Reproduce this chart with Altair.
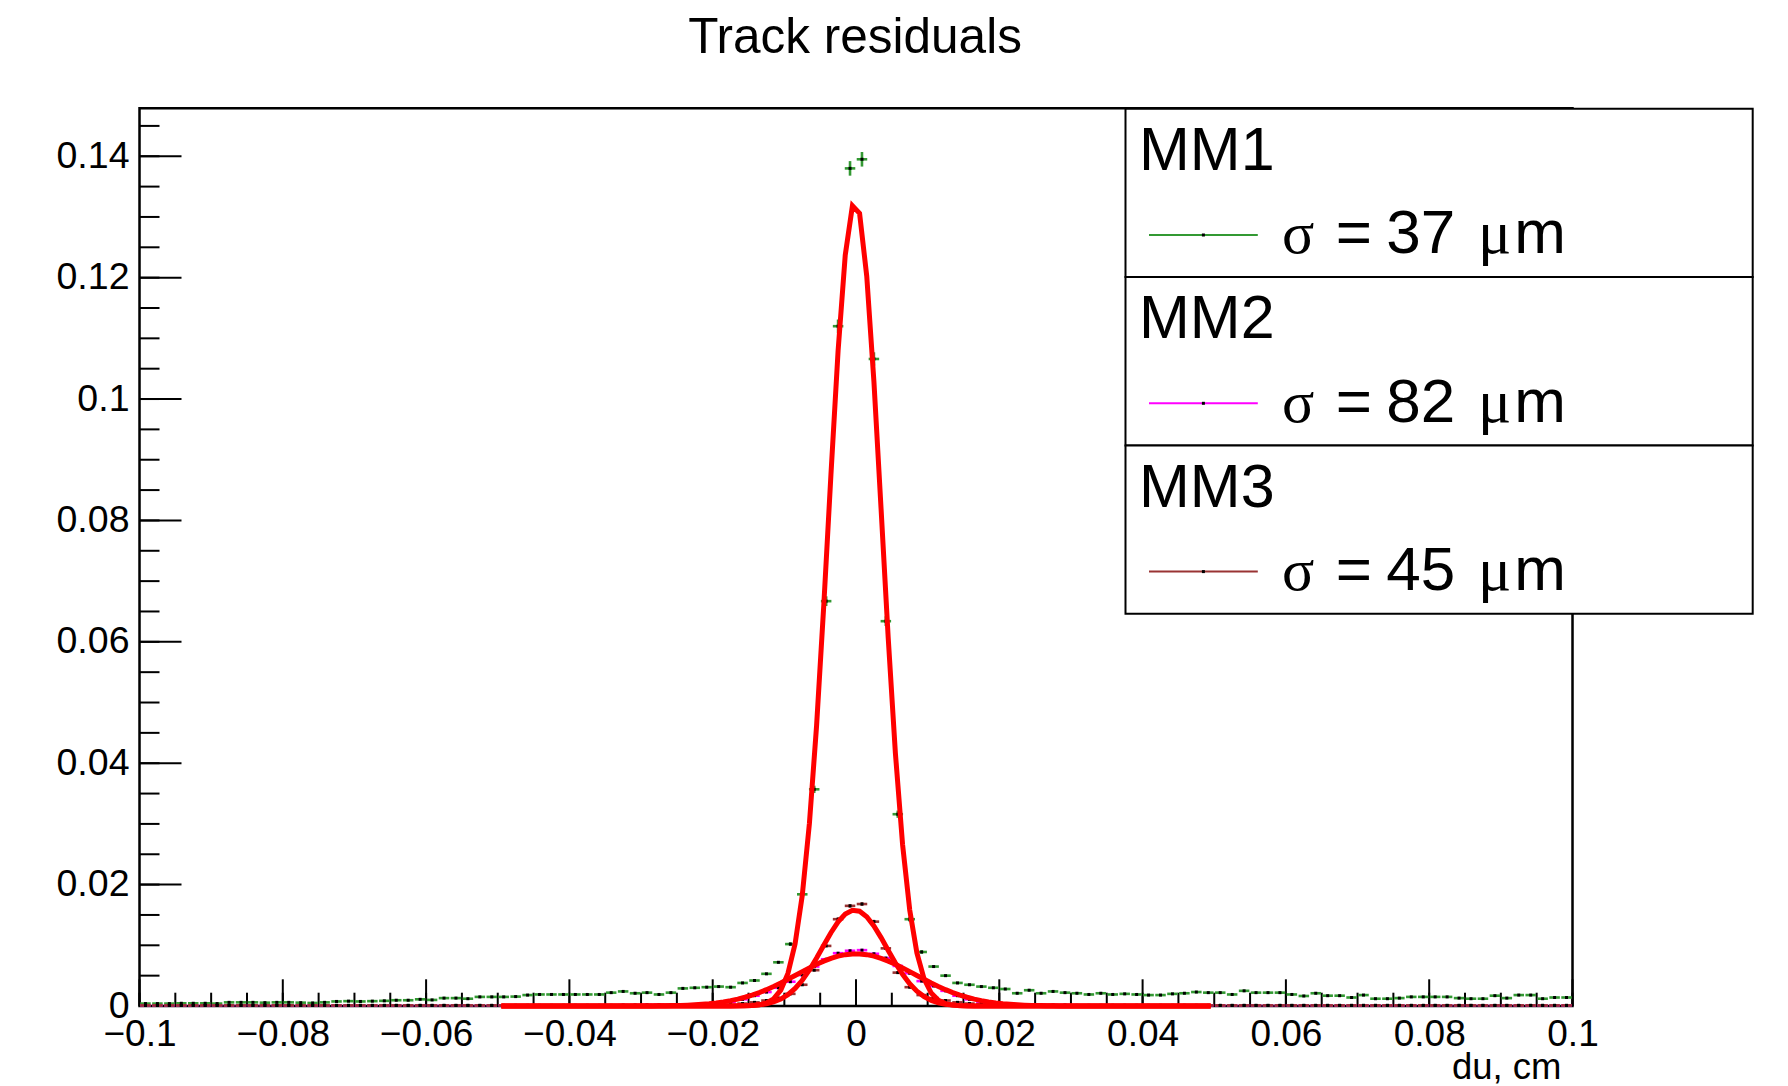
import altair as alt
import pandas as pd
import numpy as np

# ---------------- data ----------------
N_BINS = 120
X_MIN, X_MAX = -0.1, 0.1
Y_MAX = 0.1479

series_names = ["MM1", "MM2", "MM3"]
series_colors = ["#339933", "#ff00ff", "#993333"]
sigma_labels = ["37", "82", "45"]

mm1 = [0.0004, 0.0004, 0.0004, 0.00045, 0.00045, 0.00045, 0.0004, 0.0006, 0.0006, 0.0006,
       0.00055, 0.0006, 0.0006, 0.00055, 0.0005, 0.0006, 0.00075, 0.0008, 0.00075, 0.0008,
       0.00085, 0.00095, 0.00095, 0.0011, 0.001, 0.0013, 0.0013, 0.0012, 0.0015, 0.0015,
       0.0015, 0.00155, 0.0018, 0.0019, 0.0019, 0.0019, 0.0019, 0.0019, 0.0019, 0.0022,
       0.0024, 0.0021, 0.0022, 0.0019, 0.0022, 0.0029, 0.0030, 0.0031, 0.0032, 0.0031,
       0.0038, 0.0042, 0.0053, 0.0072, 0.0102, 0.0184, 0.0357, 0.0667, 0.112, 0.138,
       0.1395, 0.1066, 0.0634, 0.0316, 0.0143, 0.0089, 0.0065, 0.0050, 0.0038, 0.0035,
       0.0032, 0.0030, 0.0028, 0.0021, 0.0026, 0.0021, 0.0024, 0.0022, 0.0021, 0.0019,
       0.0021, 0.0019, 0.0020, 0.0019, 0.0018, 0.0018, 0.0020, 0.0021, 0.0023, 0.0022,
       0.0022, 0.0019, 0.0025, 0.0022, 0.0022, 0.0022, 0.0019, 0.00165, 0.0021, 0.0017,
       0.0017, 0.0014, 0.0018, 0.0012, 0.0012, 0.0013, 0.0015, 0.0015, 0.0015, 0.0015,
       0.0013, 0.0012, 0.0012, 0.0017, 0.0013, 0.0018, 0.0018, 0.0012, 0.0014, 0.0014]

mm2 = [0.0001] * 40 + [0.00015, 0.00015, 0.0002, 0.0002, 0.0002, 0.0002, 0.0002,
       0.0003, 0.0005, 0.0007, 0.0011, 0.0017, 0.0023, 0.0030, 0.0040, 0.0051, 0.0065,
       0.0077, 0.0087, 0.0091, 0.0092, 0.0086, 0.0079, 0.0066, 0.0054, 0.0041, 0.0033,
       0.0025, 0.0017, 0.0011, 0.0007, 0.0005, 0.0003, 0.0002, 0.0002, 0.0002, 0.00015,
       0.00015] + [0.0001] * 42

mm3 = [0.0001] * 46 + [0.00012, 0.00015, 0.0002, 0.0002, 0.0004, 0.0006, 0.0009,
       0.0013, 0.0020, 0.0035, 0.0059, 0.0099, 0.0143, 0.0165, 0.0168, 0.0139, 0.0095,
       0.0055, 0.0031, 0.0018, 0.0013, 0.0009, 0.0006, 0.0004, 0.0003, 0.0002, 0.00015,
       0.00012] + [0.0001] * 46

# vertical error bars (only visible near the peak): first bin index, values
err_start = 54
mm1_err = [0.0003, 0.0004, 0.0006, 0.0008, 0.0011, 0.0012, 0.0012, 0.0011, 0.0008, 0.0006, 0.0004, 0.0003]
mm2_err = [0.0, 0.0, 0.0, 0.0, 0.0002, 0.0002, 0.0002, 0.0002, 0.0, 0.0, 0.0, 0.0]
mm3_err = [0.0, 0.0, 0.0, 0.0, 0.0003, 0.0003, 0.0003, 0.0003, 0.0, 0.0, 0.0, 0.0]

# gaussian fit parameters
fit_amp = [0.1325, 0.0086, 0.0158]
fit_mean = [-0.00013, 0.0, -0.0002]
fit_sigma = [0.0037, 0.0082, 0.0045]
fit_x_first, fit_x_step, fit_n = -0.0495, 0.001, 100

x_major = [-0.1, -0.08, -0.06, -0.04, -0.02, 0, 0.02, 0.04, 0.06, 0.08, 0.1]
x_minor = [round(-0.1 + 0.005 * k, 3) for k in range(41)]
y_major = [0, 0.02, 0.04, 0.06, 0.08, 0.1, 0.12, 0.14]
y_minor = [round(0.005 * k, 3) for k in range(30)]

title_text = "Track residuals"
xlabel_text = "du, cm"

# ---------------- tables ----------------
bw = (X_MAX - X_MIN) / N_BINS
rows = []
for name, vals, errs in zip(series_names, [mm1, mm2, mm3], [mm1_err, mm2_err, mm3_err]):
    for i, v in enumerate(vals):
        c = X_MIN + (i + 0.5) * bw
        j = i - err_start
        e = errs[j] if 0 <= j < len(errs) else 0.0
        rows.append(dict(series=name, c=c, lo=c - 0.44 * bw, hi=c + 0.44 * bw,
                         v=v, elo=max(v - e, 0), ehi=v + e, e=e))
hist = pd.DataFrame(rows)

fits = []
for name, a, m, s in zip(series_names, fit_amp, fit_mean, fit_sigma):
    for k in range(fit_n):
        x = fit_x_first + k * fit_x_step
        fits.append(dict(series=name, x=x, y=a * np.exp(-0.5 * ((x - m) / s) ** 2)))
fitdf = pd.DataFrame(fits)

W, H = 1433, 897.7
FONT = "Liberation Sans"
SERIF = "Liberation Serif"

xs = alt.Scale(domain=[X_MIN, X_MAX], nice=False, zero=False)
ys = alt.Scale(domain=[0, Y_MAX], nice=False, zero=False)
col = alt.Color("series:N", scale=alt.Scale(domain=series_names, range=series_colors), legend=None)

xaxis = alt.Axis(values=x_major, format="~g", ticks=False, tickSize=0, domain=False, grid=False,
                 labelFont=FONT, labelFontSize=37, labelPadding=10, labelColor="black",
                 labelFlush=False, labelOverlap=False, labelBound=False, title="")
yaxis = alt.Axis(values=y_major, format="~g", ticks=False, tickSize=0, domain=False, grid=False,
                 labelFont=FONT, labelFontSize=37.5, labelPadding=10.5, labelColor="black",
                 labelFlush=False, labelOverlap=False, labelBound=False, title="")

def X(field):
    return alt.X(field, scale=xs, axis=xaxis)

def Y(field):
    return alt.Y(field, scale=ys, axis=yaxis)

one = pd.DataFrame({"k": [0]})

frame = alt.Chart(one).mark_rect(fillOpacity=0, stroke="black", strokeWidth=2.5).encode(
    x=alt.value(0), x2=alt.value(W), y=alt.value(0), y2=alt.value(H))

def yt(vals, length):
    return alt.Chart(pd.DataFrame({"t": vals})).mark_rule(color="black", strokeWidth=2).encode(
        y=Y("t:Q"), x=alt.value(0), x2=alt.value(length))

def xt(vals, length):
    return alt.Chart(pd.DataFrame({"t": vals})).mark_rule(color="black", strokeWidth=2).encode(
        x=X("t:Q"), y=alt.value(H), y2=alt.value(H - length))

hbars = alt.Chart(hist).mark_rule(strokeWidth=2.6).encode(
    x=X("lo:Q"), x2="hi:Q", y=Y("v:Q"), color=col)

vbars = alt.Chart(hist).transform_filter("datum.e > 0").mark_rule(strokeWidth=2.6).encode(
    x=X("c:Q"), y=Y("elo:Q"), y2="ehi:Q", color=col)

dots = alt.Chart(hist).mark_square(size=9, color="black", opacity=1).encode(
    x=X("c:Q"), y=Y("v:Q"))

fitlines = alt.Chart(fitdf).mark_line(color="#ff0000", strokeWidth=5).encode(
    x=X("x:Q"), y=Y("y:Q"), detail="series:N")

title = alt.Chart(one).mark_text(align="center", baseline="alphabetic", font=FONT,
                                 fontSize=49.5, color="black").encode(
    x=alt.value(W / 2 - 1), y=alt.value(-55), text=alt.value(title_text))

xlabel = alt.Chart(one).mark_text(align="right", baseline="alphabetic", font=FONT,
                                  fontSize=36.5, color="black").encode(
    x=alt.value(1422), y=alt.value(H + 73), text=alt.value(xlabel_text))

layers = [frame, yt(y_major, 42), yt(y_minor, 20), xt(x_major, 26.7), xt(x_minor, 13.3),
          hbars, vbars, dots, fitlines, title, xlabel]

ROW = 168.3
HEAD_SIZE = 61
NUM_SIZE = 62
for r, (name, c, sg) in enumerate(zip(series_names, series_colors, sigma_labels)):
    top = 0.5 + r * ROW
    layers.append(alt.Chart(one).mark_rect(fill="white", stroke="black", strokeWidth=2).encode(
        x=alt.value(986), x2=alt.value(1613.2), y=alt.value(top), y2=alt.value(top + ROW)))
    layers.append(alt.Chart(one).mark_text(align="left", baseline="alphabetic", font=FONT,
                                           fontSize=HEAD_SIZE, color="black").encode(
        x=alt.value(999.5), y=alt.value(61.7 + r * ROW), text=alt.value(name)))
    layers.append(alt.Chart(one).mark_rule(color=c, strokeWidth=2).encode(
        x=alt.value(1009.5), x2=alt.value(1118.3), y=alt.value(126.7 + r * ROW)))
    layers.append(alt.Chart(one).mark_square(size=9, color="black", opacity=1).encode(
        x=alt.value(1063.9), y=alt.value(126.7 + r * ROW)))
    yb = 145 + r * ROW
    layers.append(alt.Chart(one).mark_text(align="left", baseline="alphabetic", font=SERIF,
                                           fontSize=60, color="black").encode(
        x=alt.value(1142.5), y=alt.value(yb), text=alt.value("σ")))
    layers.append(alt.Chart(one).mark_text(align="left", baseline="alphabetic", font=FONT,
                                           fontSize=NUM_SIZE, color="black").encode(
        x=alt.value(1196.3), y=alt.value(yb), text=alt.value("=")))
    layers.append(alt.Chart(one).mark_text(align="left", baseline="alphabetic", font=FONT,
                                           fontSize=NUM_SIZE, color="black").encode(
        x=alt.value(1246.8), y=alt.value(yb), text=alt.value(sg)))
    layers.append(alt.Chart(one).mark_text(align="left", baseline="alphabetic", font=SERIF,
                                           fontSize=62, color="black").encode(
        x=alt.value(1338.5), y=alt.value(yb), text=alt.value("μ")))
    layers.append(alt.Chart(one).mark_text(align="right", baseline="alphabetic", font=FONT,
                                           fontSize=NUM_SIZE, color="black").encode(
        x=alt.value(1426.5), y=alt.value(yb), text=alt.value("m")))

chart = alt.layer(*layers).properties(
    width=W, height=H,
    autosize=alt.AutoSizeParams(type="none"),
    padding={"left": 131.5, "top": 100.3, "right": 207.5, "bottom": 80},
).configure_view(strokeWidth=0).configure(background="white")

chart.save("out.html", embed_options={"renderer": "svg", "actions": False})
